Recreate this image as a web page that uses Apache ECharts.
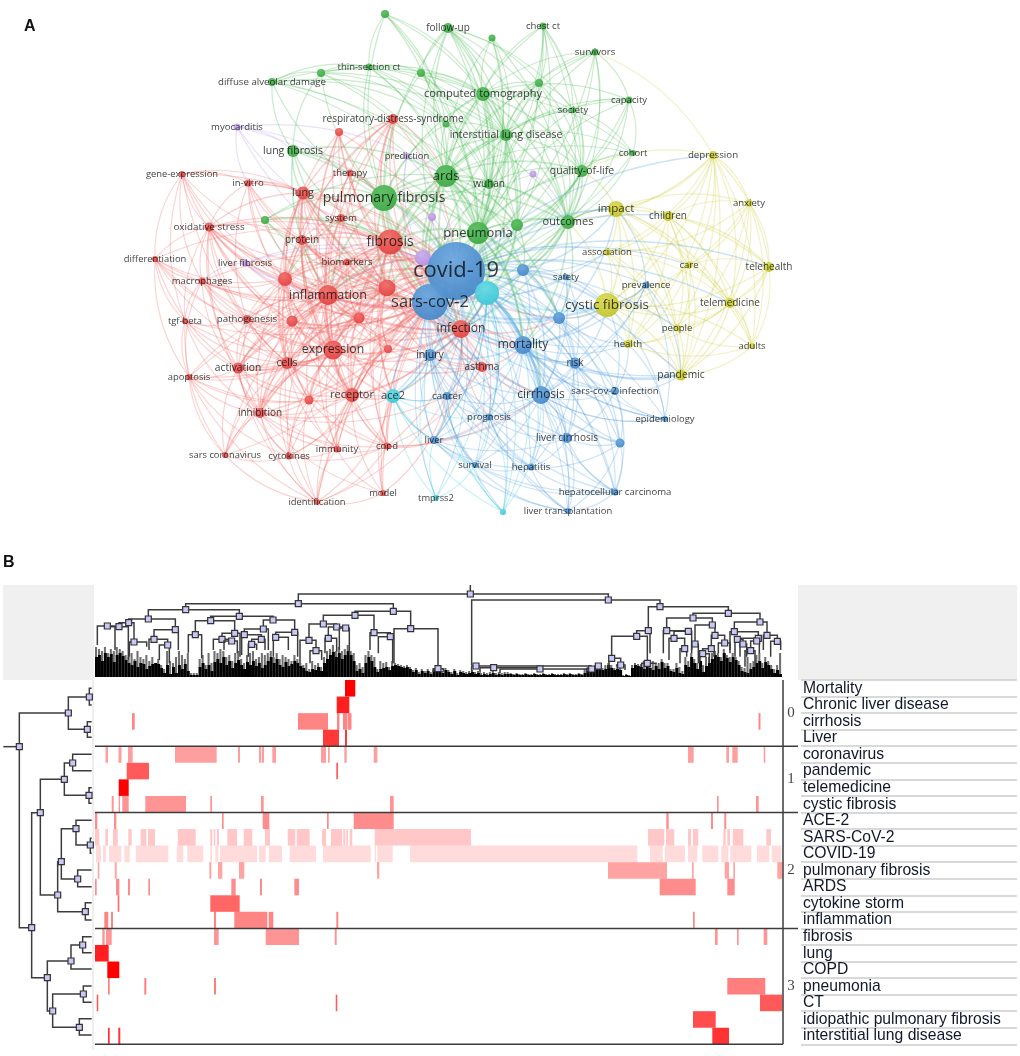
<!DOCTYPE html>
<html>
<head>
<meta charset="utf-8">
<script src="https://cdn.jsdelivr.net/npm/echarts@6/dist/echarts.min.js"></script>
<style>html,body{margin:0;padding:0;background:#fff}#chart{width:1020px;height:1056px;filter:blur(0.35px)}</style>
</head>
<body>
<div id="chart"></div>
<script>
// panel A - keyword network
var nodeLabels = ['', 'follow-up', 'thin-section ct', '', '', 'diffuse alveolar damage', 'computed tomography', '', 'chest ct', 'survivors',
    '', 'capacity', 'society', '', 'interstitial lung disease', 'cohort', 'lung fibrosis', 'quality-of-life', 'wuhan', 'ards',
    'pulmonary fibrosis', 'outcomes', '', 'pneumonia', '',
    'myocarditis', 'prediction', '', '', '', 'liver fibrosis',
    'respiratory-distress-syndrome', '', 'gene-expression', 'in-vitro', 'therapy', 'lung', 'system', 'oxidative stress', 'protein',
    'fibrosis', 'differentiation', 'biomarkers', 'macrophages', '', 'inflammation', '', 'tgf-beta', 'pathogenesis', '',
    '', 'infection', 'expression', '', 'cells', 'activation', 'apoptosis', 'asthma', '', 'receptor',
    'inhibition', 'sars coronavirus', 'cytokines', 'immunity', 'copd', 'model', 'identification',
    'covid-19', 'sars-cov-2', '', 'safety', 'prevalence', '', 'mortality', 'risk', 'injury', 'cirrhosis',
    'cancer', 'sars-cov-2 infection', 'prognosis', 'epidemiology', 'liver', 'liver cirrhosis', '', 'survival', 'hepatitis',
    'hepatocellular carcinoma', 'liver transplantation',
    '', 'ace2', 'tmprss2', '',
    'depression', 'impact', 'children', 'anxiety', 'association', 'care', 'telehealth', 'cystic fibrosis', 'telemedicine',
    'people', 'adults', 'health', 'pandemic'];
var nodeX = [385, 448, 369, 321, 421, 272, 483, 492, 543, 595, 539, 629, 573, 446, 506, 633, 293, 582, 489, 446, 384, 568, 517, 478, 265,
    237, 407, 533, 432, 423, 245,
    393, 339, 182, 248, 350, 303, 341, 209, 302, 390, 155, 347, 202, 285, 328, 387, 185, 247, 292, 359, 461, 333, 388, 287, 238, 189, 482, 309, 352,
    260, 225, 289, 337, 387, 383, 317,
    456, 430, 523, 566, 646, 559, 523, 575, 430, 541, 447, 615, 489, 665, 434, 567, 620, 475, 531, 615, 568,
    487, 393, 436, 503,
    713, 616, 668, 749, 607, 689, 769, 607, 730, 677, 752, 628, 681];
var nodeY = [14, 28, 67, 73, 73, 82, 94, 38, 26, 52, 83, 100, 110, 124, 135, 153, 151, 171, 184, 176, 198, 222, 225, 233, 220,
    127, 156, 174, 217, 258, 263,
    119, 132, 174, 183, 173, 193, 218, 227, 240, 242, 259, 262, 281, 279, 295, 288, 321, 319, 321, 318, 329, 350, 349, 363, 368, 377, 367, 400, 395,
    413, 455, 456, 449, 446, 493, 502,
    271, 302, 270, 277, 285, 318, 345, 363, 355, 395, 396, 391, 417, 419, 440, 438, 443, 465, 467, 492, 511,
    293, 396, 498, 512,
    155, 209, 216, 203, 252, 265, 267, 305, 303, 328, 346, 344, 375];
var nodeWeight = [4, 5, 3.5, 4, 4, 4, 7, 3.5, 3.5, 3.5, 4, 3.5, 3, 3.5, 6, 3, 6, 6, 5, 11, 13, 7, 6, 11, 4,
    3.5, 3, 3.5, 4, 8, 3.5,
    5, 4, 3, 3.5, 3.5, 6.5, 4, 4.5, 5, 12.5, 3, 3.5, 3.5, 7, 10, 8.5, 3, 4, 5.5, 5.5, 9, 9.5, 4, 6, 5.5, 3, 5, 4.5, 7,
    5, 3, 3.5, 3.5, 3.5, 3, 3,
    29, 18, 6, 3, 3.5, 6, 9, 5.5, 6, 9, 4, 4, 3.5, 3, 4, 5, 4.5, 3, 3.5, 3.5, 3,
    12, 7, 3, 3,
    4, 8, 5, 3.5, 3.5, 3.5, 5, 12, 5, 3.5, 3, 4, 5.5];
// 0 green, 1 purple, 2 red, 3 blue, 4 cyan, 5 yellow
var clusterFirstNode = [0, 25, 31, 67, 88, 92];

var linksGreen = [
    [0, [2, 6, 14, 19, 20, 23, 13]],
    [1, [6, 14, 18, 19, 23, 21, 17, 22, 10, 12, 4, 20, 28]],
    [2, [3, 5, 6, 13, 14, 19, 20, 23, 4, 18]],
    [3, [5, 6, 13, 14, 19, 20, 23, 16]],
    [4, [6, 14, 19, 20, 23, 18, 22]],
    [5, [14, 16, 19, 20, 23, 6, 13, 22]],
    [6, [8, 10, 12, 13, 14, 17, 18, 19, 20, 21, 22, 23, 7, 11, 67, 68]],
    [7, [14, 19, 23, 18, 21]],
    [8, [10, 14, 17, 19, 23, 21, 12, 22, 18]],
    [9, [6, 14, 17, 19, 21, 23, 11, 10, 22, 67]],
    [10, [14, 17, 19, 21, 23, 12, 18]],
    [11, [14, 17, 21, 23, 19, 15, 67, 12]],
    [12, [14, 17, 19, 21, 23, 15]],
    [13, [14, 18, 19, 20, 23, 21]],
    [14, [17, 18, 19, 20, 21, 22, 23, 67, 68, 15, 51, 40]],
    [15, [17, 21, 23, 67, 19, 6]],
    [16, [19, 20, 23, 40, 36, 67, 45, 46]],
    [17, [19, 21, 22, 23, 67, 68, 18, 69]],
    [18, [19, 20, 21, 22, 23, 67, 68, 40]],
    [19, [20, 21, 22, 23, 67, 68, 40, 51, 46, 29, 28, 69, 72, 88, 73]],
    [20, [21, 22, 23, 67, 68, 40, 36, 45, 46, 29, 28, 44, 24, 51]],
    [21, [22, 23, 67, 68, 69, 72, 88, 73, 51, 93]],
    [22, [23, 67, 68, 88, 69, 51]],
    [23, [67, 68, 40, 46, 51, 88, 69, 73, 72, 45, 76, 75]],
    [24, [40, 45, 19, 67, 68, 39]]
];
var linksPurple = [
    [25, [16, 34, 67, 68, 29, 19, 20]],
    [26, [67, 68, 19, 29]],
    [27, [67, 29, 21]],
    [28, [67, 68, 40]],
    [29, [67, 68, 30, 45, 40]],
    [30, [67, 68, 45, 44, 43]]
];
var linksRed = [
    [31, [19, 20, 40, 36, 45, 46, 67, 68, 52, 51, 39, 44, 35]],
    [32, [40, 45, 46, 67, 68, 52, 20, 44, 37]],
    [33, [34, 38, 41, 43, 45, 40, 47, 52, 44, 54, 36, 39]],
    [34, [36, 38, 39, 40, 45, 46, 52, 44, 67, 68, 48]],
    [35, [40, 45, 46, 67, 68, 52, 36, 37]],
    [36, [37, 38, 39, 40, 44, 45, 46, 49, 50, 52, 54, 67, 68, 51, 59, 42]],
    [37, [40, 45, 46, 52, 67, 68, 39, 44, 50]],
    [38, [39, 40, 41, 43, 44, 45, 46, 48, 49, 50, 52, 54, 55, 67, 68, 47, 60, 42]],
    [39, [40, 42, 44, 45, 46, 49, 50, 52, 54, 67, 68, 51, 59]],
    [40, [42, 44, 45, 46, 48, 49, 50, 51, 52, 53, 54, 55, 57, 59, 60, 67, 68, 29, 88, 64, 63, 75, 89, 73, 72]],
    [41, [43, 45, 47, 52, 44, 48, 40, 55, 56, 54]],
    [42, [45, 46, 52, 67, 68, 44, 50, 51, 49, 53]],
    [43, [44, 45, 46, 49, 52, 54, 47, 48, 55, 56, 67, 68]],
    [44, [45, 46, 48, 49, 50, 52, 54, 55, 59, 60, 67, 68, 51, 58]],
    [45, [46, 48, 49, 50, 51, 52, 53, 54, 55, 56, 57, 58, 59, 60, 63, 64, 67, 68, 75, 89, 88, 29, 62, 61]],
    [46, [49, 50, 51, 52, 53, 54, 55, 59, 60, 67, 68, 57, 64, 58, 75, 89]],
    [47, [48, 52, 55, 56, 54, 60, 61, 68]],
    [48, [49, 50, 52, 54, 55, 60, 67, 68, 59]],
    [49, [50, 52, 54, 55, 59, 60, 67, 68, 58, 51]],
    [50, [52, 54, 59, 67, 68, 51, 53, 55, 58]],
    [51, [52, 53, 54, 57, 59, 64, 67, 68, 75, 77, 79, 81, 88, 89, 73, 76, 72]],
    [52, [53, 54, 55, 58, 59, 60, 62, 63, 64, 67, 68, 75, 89, 57, 61]],
    [53, [59, 67, 68, 54, 64, 57]],
    [54, [55, 56, 58, 59, 60, 62, 63, 67, 68, 66, 64, 61, 89]],
    [55, [56, 58, 59, 60, 62, 67, 68, 61, 66, 63]],
    [56, [60, 58, 61, 62, 59, 66, 67, 68]],
    [57, [67, 68, 64, 73, 76, 79, 75, 77]],
    [58, [59, 60, 62, 63, 66, 67, 68, 64]],
    [59, [60, 62, 63, 64, 65, 66, 67, 68, 89, 75]],
    [60, [61, 62, 63, 64, 66, 67, 68, 65, 89, 77]],
    [61, [62, 66, 67, 68]],
    [62, [63, 64, 66, 67, 68]],
    [63, [64, 65, 66, 67, 68]],
    [64, [65, 66, 67, 68, 81, 79, 76]],
    [65, [66, 67, 68, 89, 77]],
    [66, [67, 68, 89, 77]]
];
var linksBlue = [
    [67, [68, 69, 70, 71, 72, 73, 74, 75, 76, 77, 78, 79, 80, 81, 82, 83, 84, 85, 86, 87, 88, 89, 90, 91, 93, 96, 97, 99, 100, 101, 103, 104, 94, 92, 98, 29, 28]],
    [68, [69, 72, 73, 74, 75, 76, 77, 78, 79, 81, 82, 83, 84, 85, 86, 87, 88, 89, 90, 91, 99, 104, 103, 96]],
    [69, [73, 74, 76, 72, 99, 96, 93, 88, 51]],
    [70, [73, 76, 99, 72, 74, 88]],
    [71, [99, 76, 73, 74, 93, 80, 104]],
    [72, [73, 74, 76, 78, 99, 83, 82, 88, 103, 93]],
    [73, [74, 75, 76, 77, 78, 79, 80, 81, 82, 83, 84, 85, 86, 87, 88, 99, 104, 103]],
    [74, [76, 78, 79, 80, 82, 83, 85, 86, 88, 99, 104]],
    [75, [76, 77, 79, 81, 84, 88, 89, 82, 85]],
    [76, [77, 78, 79, 80, 81, 82, 83, 84, 85, 86, 87, 88]],
    [77, [79, 81, 84, 85, 88, 89]],
    [78, [80, 83, 82, 86, 99, 103, 104]],
    [79, [81, 82, 84, 85, 86, 87, 88]],
    [80, [99, 103, 76, 73]],
    [81, [84, 85, 82, 86, 87, 88, 89]],
    [82, [85, 86, 87, 83]],
    [83, [86, 87, 85]],
    [84, [85, 86, 87]],
    [85, [86, 87]],
    [86, [87]]
];
var linksCyan = [
    [88, [89, 90, 91, 75, 73, 76, 77, 79, 84, 81, 99]],
    [89, [90, 91, 75, 77, 81, 84, 79]],
    [90, [81, 84, 75]],
    [91, [84, 79, 76, 77, 75, 73]]
];
var linksYellow = [
    [92, [93, 94, 95, 96, 97, 98, 99, 100, 101, 102, 103, 104, 9, 21, 17]],
    [93, [94, 95, 96, 97, 98, 99, 100, 101, 102, 103, 104, 21, 17]],
    [94, [95, 96, 97, 98, 99, 100, 101, 102, 103, 104]],
    [95, [97, 98, 99, 100, 101, 102, 104, 96]],
    [96, [97, 99, 100, 101, 103, 104]],
    [97, [98, 99, 100, 101, 102, 103, 104]],
    [98, [99, 100, 101, 102, 104]],
    [99, [100, 101, 102, 103, 104, 71, 21, 72]],
    [100, [101, 102, 103, 104]],
    [101, [102, 103, 104]],
    [102, [103, 104]],
    [103, [104]]
];

// panel B - heat map
var rowLabels = ['Mortality', 'Chronic liver disease', 'cirrhosis', 'Liver', 'coronavirus', 'pandemic', 'telemedicine', 'cystic fibrosis',
    'ACE-2', 'SARS-CoV-2', 'COVID-19', 'pulmonary fibrosis', 'ARDS', 'cytokine storm', 'inflammation',
    'fibrosis', 'lung', 'COPD', 'pneumonia', 'CT', 'idiopathic pulmonary fibrosis', 'interstitial lung disease'];
var rowStrength = [1, 0.88, 0.48, 0.78, 0.38, 0.65, 1, 0.42, 0.45, 0.22, 0.14, 0.36, 0.45, 0.6, 0.48, 0.42, 0.88, 1, 0.5, 0.65, 0.7, 0.8];
var rowSpans = [
    [[345, 355.3]],
    [[336.7, 349.3]],
    [[132, 134.7], [298, 328], [337, 339.5], [343, 347.5], [348, 351.5], [758.5, 760.5]],
    [[323, 339], [345, 347]],
    [[105.5, 108], [118.5, 121.5], [128, 132.7], [175, 216.7], [238, 240], [259, 261.3], [262, 264], [272.3, 276], [321, 326], [328, 329.7], [344.3, 346.7], [373.7, 377.3], [688, 693.7], [726.3, 729], [732.3, 737.7], [763.7, 765.3]],
    [[126.7, 149], [336.3, 338]],
    [[118.7, 128.7]],
    [[111.7, 113.7], [118.7, 120], [122.3, 128.7], [145.3, 186], [210.3, 212], [261, 263.7], [390, 393.7], [717, 718.7], [756, 758.7]],
    [[95, 97.3], [114, 116.3], [222, 223.7], [262.7, 269.3], [327, 328.7], [353.7, 393.7], [666.3, 668.7], [711, 713], [724.3, 726.3]],
    [[95, 99.3], [105.3, 108], [113, 117.7], [128.3, 131.7], [140.7, 146.3], [148, 155], [177.7, 195.7], [210.3, 212.3], [213.7, 215.3], [217, 219], [227.3, 237], [243.7, 252.3], [265, 270], [287.7, 295.3], [296.7, 309.7], [322, 326], [331, 342.3], [343.3, 345.3], [346.3, 348], [349.7, 352.3], [374.7, 471], [648, 664.3], [666, 674.3], [688, 691], [693, 698.3], [723.3, 725.7], [727.3, 730], [732.7, 743.3], [766.3, 771]],
    [[96, 101], [103, 106], [109, 121.3], [124.3, 129.7], [135.7, 168.3], [176.7, 183.3], [187.3, 203.3], [210.3, 212], [215.3, 218.3], [220, 257], [259, 265.7], [268.7, 282], [289.7, 316], [323, 370.7], [374.7, 376], [377.3, 392.7], [410, 637.3], [650, 662.7], [664.7, 685], [688, 697.3], [702.3, 718.3], [721.3, 728.3], [730.3, 751.3], [757, 769.3], [771.7, 781.3]],
    [[97.7, 99.3], [114.7, 116.7], [209.3, 211.3], [218, 222.3], [239, 244.3], [377, 379.3], [608, 667], [692, 693.7], [724.7, 729], [733.3, 735], [777.3, 782.3]],
    [[95, 96.7], [116, 119.3], [128, 130], [148.3, 150], [231.3, 235.7], [260, 262], [294.3, 299], [659.7, 695.7], [727.3, 734.7]],
    [[117.7, 119.3], [210.3, 239.7]],
    [[104.3, 108.3], [111, 113], [214, 216], [234.3, 267.3], [268.7, 273.3], [336.3, 338.3], [693, 694.7]],
    [[102.3, 104.7], [106, 111.7], [214, 218.7], [265.7, 299], [334.7, 336.7], [715, 717.7], [737, 738.7], [763.7, 767.3]],
    [[95, 108.7]],
    [[107.3, 119.3]],
    [[108, 109.7], [144.3, 146.3], [214, 216], [727.3, 765.3]],
    [[96.7, 98.3], [335.7, 337.3], [760, 782.3]],
    [[693, 715.7]],
    [[108, 109.7], [118.3, 120.3], [712.3, 729]]
];
var groupNames = ['0', '1', '2', '3'];
var groupCentres = [2, 6, 11.5, 18.5];
var groupEnds = [4, 8, 15, 22];

// dendrograms: node x, node y, first child x, y, second child x, y
var topBranches = [
    [1411, 132, 895, 161, 1825, 150], [895, 161, 557, 179, 1180, 184], [557, 179, 445, 207, 718, 199], [445, 207, 386, 218, 526, 239],
    [386, 218, 357, 230, 402, 276], [357, 230, 322, 228, 385, 330], [322, 228, 292, 285, 345, 300], [402, 276, 388, 320, 440, 290],
    [526, 239, 462, 268, 535, 300], [462, 268, 447, 300, 503, 285], [503, 285, 478, 330, 508, 340], [718, 199, 632, 212, 819, 210],
    [632, 212, 586, 254, 704, 250], [586, 254, 565, 308, 605, 325], [704, 250, 666, 268, 720, 320], [666, 268, 640, 300, 695, 273],
    [695, 273, 672, 300, 712, 310], [819, 210, 790, 237, 884, 247], [790, 237, 733, 254, 805, 300], [733, 254, 725, 315, 784, 268],
    [784, 268, 755, 283, 795, 300], [755, 283, 745, 320, 770, 300], [884, 247, 827, 262, 893, 320], [827, 262, 820, 320, 865, 300],
    [1180, 184, 1065, 196, 1232, 236], [1065, 196, 970, 222, 1122, 248], [970, 222, 927, 271, 1010, 231], [927, 271, 900, 340, 948, 302],
    [948, 302, 930, 340, 965, 330], [1010, 231, 985, 265, 1037, 234], [985, 265, 975, 310, 1010, 305], [1037, 234, 1018, 300, 1048, 310],
    [1122, 248, 1110, 300, 1171, 260], [1171, 260, 1135, 310, 1178, 340], [1232, 236, 1182, 340, 1314, 356], [1314, 356, 1300, 365, 1330, 365],
    [1825, 150, 1415, 345, 1980, 170], [1428, 348, 1415, 365, 1775, 348], [1481, 353, 1440, 368, 1620, 357], [1620, 357, 1500, 370, 1775, 357],
    [1775, 357, 1760, 370, 1795, 352], [1795, 348, 1785, 360, 1800, 360], [1980, 170, 1945, 242, 2185, 190], [1945, 242, 1910, 259, 1950, 310],
    [1910, 259, 1835, 325, 1942, 340], [1835, 325, 1827, 355, 1862, 345], [1862, 345, 1850, 350, 1875, 360], [1942, 340, 1925, 350, 1970, 340],
    [2185, 190, 2079, 204, 2280, 216], [2079, 204, 2000, 242, 2137, 225], [2000, 242, 1990, 310, 2065, 244], [2065, 244, 2022, 265, 2075, 300],
    [2022, 265, 2007, 330, 2054, 296], [2054, 296, 2040, 340, 2060, 320], [2137, 225, 2085, 282, 2145, 256], [2085, 282, 2075, 310, 2095, 340],
    [2145, 256, 2134, 296, 2174, 279], [2134, 296, 2108, 311, 2142, 320], [2108, 311, 2098, 340, 2128, 340], [2174, 279, 2155, 310, 2190, 310],
    [2280, 216, 2203, 245, 2301, 256], [2203, 245, 2190, 300, 2275, 265], [2275, 265, 2212, 268, 2270, 273], [2212, 268, 2205, 320, 2229, 282],
    [2229, 282, 2220, 320, 2240, 320], [2270, 273, 2252, 302, 2278, 310], [2252, 302, 2235, 350, 2265, 350], [2301, 256, 2290, 300, 2332, 274],
    [2332, 274, 2312, 320, 2342, 300]
];
var leftBranches = [
    [58, 215, 205, 114, 95, 758], [205, 114, 268, 66, 262, 163], [268, 66, 275, 40, 275, 90], [262, 163, 275, 140, 275, 187],
    [95, 758, 121, 413, 142, 908], [121, 413, 193, 313, 173, 660], [193, 313, 218, 264, 267, 361], [218, 264, 275, 238, 275, 287],
    [267, 361, 275, 338, 275, 385], [173, 660, 184, 560, 256, 710], [184, 560, 228, 461, 233, 612], [228, 461, 275, 436, 271, 510],
    [271, 510, 275, 490, 275, 535], [233, 612, 275, 585, 275, 635], [256, 710, 275, 683, 275, 735], [142, 908, 213, 858, 158, 1008],
    [213, 858, 248, 810, 275, 882], [248, 810, 275, 785, 275, 833], [158, 1008, 250, 957, 238, 1057], [250, 957, 275, 933, 275, 982],
    [238, 1057, 275, 1031, 275, 1080]
];
var topRootEnd = 105;
var leftRootEnd = 10;

// height of the dense leaves under the top tree, one value per leaf bin
var leafBlack = [20, 22, 16, 24, 20, 23, 15, 22, 24, 21, 17, 14, 12, 16, 10, 14, 13, 8, 11, 13, 14, 13, 9, 4, 12, 3, 10, 4, 12, 8, 13, 6, 2, 2, 2,
    10, 14, 8, 12, 6, 15, 18, 14, 20, 12, 16, 9, 14, 17, 12, 8, 15, 12, 16, 11, 14, 9, 12, 16, 20, 14, 18, 12, 10, 15, 11, 13, 16, 14, 11,
    9, 6, 5, 8, 7, 10, 6, 14, 18, 22, 25, 20, 24, 18, 22, 26, 22, 16, 6, 8, 4, 14, 20, 16, 10, 5, 8, 9, 10, 7, 11, 12, 11, 10, 9, 10, 8,
    5, 7, 3, 6, 4, 6, 3, 7, 5, 6, 4, 7, 5, 3, 6, 2, 5, 4, 3, 4, 5, 3, 4, 2, 3, 2, 3, 4, 2, 3, 2, 3, 3,
    3, 2, 3, 2, 2, 3, 2, 2, 3, 2, 2, 3, 2, 2, 3, 2, 2, 2, 3, 2, 3, 2, 2, 3, 2, 4, 6, 8, 7, 9, 8, 7, 8, 12, 9, 7, 8, 7, 1, 2, 1,
    9, 12, 11, 10, 8, 13, 9, 7, 11, 8, 15, 9, 11, 6, 5, 9, 4, 3, 12, 10, 20, 14, 8, 16, 5, 11, 14, 18, 22, 20, 16, 24, 19, 15, 20, 17, 12,
    6, 5, 4, 8, 10, 14, 16, 9, 15, 12, 8, 4, 7, 3];
var leafGray = [30, 28, 26, 30, 24, 28, 26, 30, 28, 26, 22, 20, 24, 18, 26, 20, 18, 22, 16, 20, 14, 18, 12, 8, 26, 16, 14, 20, 26, 22, 18, 24, 4, 4, 4,
    18, 22, 12, 24, 14, 26, 24, 28, 26, 20, 22, 16, 24, 26, 18, 14, 22, 24, 26, 18, 20, 24, 22, 24, 26, 20, 24, 18, 22, 20, 18, 16, 22, 18, 14,
    12, 14, 8, 16, 12, 14, 10, 20, 26, 28, 32, 26, 30, 26, 28, 32, 26, 24, 12, 14, 10, 22, 26, 22, 20, 8, 16, 14, 15, 10, 16, 14, 13, 12, 11, 12, 10,
    7, 9, 5, 8, 6, 8, 5, 9, 7, 8, 6, 9, 7, 5, 8, 4, 7, 6, 5, 6, 7, 5, 6, 4, 5, 4, 5, 6, 4, 5, 4, 5, 5,
    4, 3, 4, 3, 3, 4, 3, 3, 4, 3, 3, 4, 3, 3, 4, 3, 3, 3, 4, 3, 4, 3, 3, 4, 3, 8, 10, 12, 10, 12, 10, 9, 12, 14, 12, 9, 10, 9, 2, 3, 2,
    12, 14, 13, 13, 16, 15, 14, 16, 14, 14, 18, 14, 14, 8, 8, 14, 10, 6, 20, 16, 24, 18, 14, 20, 12, 20, 20, 24, 26, 24, 20, 28, 22, 20, 24, 20, 16,
    10, 9, 20, 14, 16, 22, 24, 14, 20, 16, 12, 8, 12, 24];

var clusterColors = ['#3da644', '#b58de0', '#e2403f', '#4585c6', '#3cc6d4', '#c2c228'];
var clusterLights = ['#5cc062', '#cdb0ee', '#f06f6c', '#6ca8e0', '#68dbe5', '#dcdc58'];
var clusterEdges = ['#4fbc58', '#b79ae4', '#ee6a68', '#5aa2e0', '#42cfdc', '#cfd044'];

function clusterOf(i) {
    var c = 0;
    for (var k = 0; k < clusterFirstNode.length; k++) {
        if (i >= clusterFirstNode[k]) c = k;
    }
    return c;
}

// label text grows with the node, faster on the mid sized ones
function labelFont(r) {
    if (r <= 5) return 8.5 + r * 0.3;
    if (r <= 13) return 10 + (r - 5) * 0.5;
    return 14 + (r - 13) * 0.5;
}

// curved edges, bowed away from the middle of the map
function edgeData(links) {
    var out = [];
    links.forEach(function (row) {
        row[1].forEach(function (t) {
            var a = row[0], b = t;
            var mx = (nodeX[a] + nodeX[b]) / 2 - nodeX[67];
            var my = (nodeY[a] + nodeY[b]) / 2 - nodeY[67];
            // normal of the chord that echarts uses for a positive curveness
            if ((nodeY[b] - nodeY[a]) * mx + (nodeX[a] - nodeX[b]) * my < 0) { var s = a; a = b; b = s; }
            var w = Math.min(nodeWeight[a], nodeWeight[b]);
            out.push({
                coords: [[nodeX[a], nodeY[a]], [nodeX[b], nodeY[b]]],
                lineStyle: { width: 0.7 + w * 0.14 }
            });
        });
    });
    return out;
}

function edgeSeries(links, cluster) {
    return {
        type: 'lines', coordinateSystem: 'cartesian2d', xAxisIndex: 0, yAxisIndex: 0, polyline: false, z: 1, silent: true,
        lineStyle: { color: clusterEdges[cluster], opacity: 0.3, curveness: 0.18 },
        data: edgeData(links)
    };
}

var nodeData = nodeX.map(function (x, i) {
    var c = clusterOf(i);
    return {
        name: nodeLabels[i], value: [x, nodeY[i], nodeWeight[i]],
        itemStyle: {
            color: new echarts.graphic.RadialGradient(0.42, 0.32, 0.75, [
                { offset: 0, color: clusterLights[c] }, { offset: 1, color: clusterColors[c] }
            ])
        }
    };
});
var labelData = [];
nodeLabels.forEach(function (name, i) {
    if (!name) return;
    labelData.push({
        name: name, value: [nodeX[i], nodeY[i]],
        label: { fontSize: labelFont(nodeWeight[i]) }
    });
});

var heatData = [];
rowSpans.forEach(function (spans, r) {
    spans.forEach(function (s) { heatData.push([s[0], s[1], r, rowStrength[r]]); });
});

function branchItem(vertical, rootEnd) {
    return function (params, api) {
        var n = api.coord([api.value(0), api.value(1)]);
        var a = api.coord([api.value(2), api.value(3)]);
        var b = api.coord([api.value(4), api.value(5)]);
        var pts = vertical
            ? [a, [a[0], n[1]], [b[0], n[1]], b]
            : [a, [n[0], a[1]], [n[0], b[1]], b];
        var kids = [{ type: 'polyline', shape: { points: pts }, style: { stroke: '#3c3c3c', lineWidth: 1.5, fill: null } }];
        if (params.dataIndex === 0) {
            var end = vertical ? api.coord([api.value(0), rootEnd]) : api.coord([rootEnd, api.value(1)]);
            kids.push({ type: 'line', shape: { x1: n[0], y1: n[1], x2: end[0], y2: end[1] }, style: { stroke: '#3c3c3c', lineWidth: 1.5 } });
        }
        kids.push({ type: 'rect', shape: { x: n[0] - 3, y: n[1] - 3, width: 6, height: 6 }, style: { fill: '#c8c8f8', stroke: '#333', lineWidth: 1.2 } });
        return { type: 'group', children: kids };
    };
}

function hiddenAxis(index, min, max, inverse) {
    return { type: 'value', gridIndex: index, min: min, max: max, inverse: !!inverse, show: false, splitLine: { show: false } };
}

var leafBins = leafBlack.map(function (v, i) { return i; });

var option = {
    backgroundColor: '#fff',
    animation: false,
    title: [
        { text: 'A', left: 19, top: 14, textStyle: { fontFamily: 'Liberation Sans', fontSize: 16, fontWeight: 'bold', color: '#111' } },
        { text: 'B', left: -2, top: 550, textStyle: { fontFamily: 'Liberation Sans', fontSize: 16, fontWeight: 'bold', color: '#111' } }
    ],
    graphic: [
        { type: 'rect', left: 3, top: 585, z: -1, shape: { width: 91, height: 95 }, style: { fill: '#f0f0f0' } },
        { type: 'rect', left: 798, top: 585, z: -1, shape: { width: 219, height: 95 }, style: { fill: '#f0f0f0' } },
        { type: 'rect', left: 92, top: 680, z: -1, shape: { width: 2, height: 370 }, style: { fill: '#eeeeee' } }
    ],
    grid: [
        { left: 0, top: 0, width: 1020, height: 540 },
        { left: 0, top: 550, width: 1020, height: 140 },
        { left: 95, top: 585, width: 687, height: 92 },
        { left: 0, top: 675, width: 94, height: 381 },
        { left: 0, top: 680, width: 1020, height: 364.3 },
        { left: 801, top: 680, width: 216, height: 364.3 }
    ],
    xAxis: [
        hiddenAxis(0, 0, 1020),
        hiddenAxis(1, 0, 3060),
        { type: 'category', gridIndex: 2, data: leafBins, show: false },
        hiddenAxis(3, 0, 282),
        hiddenAxis(4, 0, 1020),
        hiddenAxis(5, 0, 1)
    ],
    yAxis: [
        hiddenAxis(0, 0, 540, true),
        hiddenAxis(1, 0, 420, true),
        hiddenAxis(2, 0, 92),
        hiddenAxis(3, 0, 1143, true),
        hiddenAxis(4, 0, 22, true),
        {
            type: 'category', gridIndex: 5, data: rowLabels, inverse: true, position: 'left',
            axisLine: { show: false }, axisTick: { show: false },
            axisLabel: { inside: true, margin: 2, interval: 0, color: '#10182a', fontFamily: 'Liberation Sans', fontSize: 15.7, align: 'left', padding: [3, 0, 0, 0] },
            splitLine: { show: true, interval: 0, lineStyle: { color: '#cccccc', width: 1.5 } }
        }
    ],
    series: [
        edgeSeries(linksCyan, 4),
        edgeSeries(linksYellow, 5),
        edgeSeries(linksPurple, 1),
        edgeSeries(linksGreen, 0),
        edgeSeries(linksRed, 2),
        edgeSeries(linksBlue, 3),
        {
            type: 'scatter', xAxisIndex: 0, yAxisIndex: 0, z: 2, silent: true, data: nodeData,
            symbolSize: function (v) { return v[2] * 2; },
            itemStyle: { opacity: 0.95 }
        },
        {
            type: 'scatter', xAxisIndex: 0, yAxisIndex: 0, z: 3, silent: true, data: labelData, symbolSize: 1,
            itemStyle: { color: 'rgba(0,0,0,0)' },
            label: { show: true, position: 'inside', formatter: '{b}', color: '#0c0c0c', fontFamily: 'Open Sans' },
            labelLayout: { hideOverlap: false }
        },
        {
            type: 'bar', xAxisIndex: 2, yAxisIndex: 2, data: leafGray, barWidth: '70%', barGap: '-100%', z: 1, silent: true,
            itemStyle: { color: '#707070' }
        },
        {
            type: 'bar', xAxisIndex: 2, yAxisIndex: 2, data: leafBlack, barWidth: '100%', barGap: '-100%', z: 2, silent: true,
            itemStyle: { color: '#000' }
        },
        {
            type: 'custom', xAxisIndex: 1, yAxisIndex: 1, z: 3, silent: true, data: topBranches,
            encode: { x: [0, 2, 4], y: [1, 3, 5] },
            renderItem: branchItem(true, topRootEnd)
        },
        {
            type: 'custom', xAxisIndex: 3, yAxisIndex: 3, z: 3, silent: true, data: leftBranches,
            encode: { x: [0, 2, 4], y: [1, 3, 5] },
            renderItem: branchItem(false, leftRootEnd)
        },
        {
            type: 'custom', xAxisIndex: 4, yAxisIndex: 4, z: 2, silent: true, data: heatData,
            encode: { x: [0, 1], y: 2 },
            renderItem: function (params, api) {
                var p0 = api.coord([api.value(0), api.value(2)]);
                var p1 = api.coord([api.value(1), api.value(2) + 1]);
                return {
                    type: 'rect',
                    shape: { x: p0[0], y: p0[1], width: p1[0] - p0[0], height: p1[1] - p0[1] },
                    style: { fill: 'rgba(255,0,0,' + api.value(3) + ')' }
                };
            }
        },
        {
            // separators between the four groups and the bar closing the matrix
            type: 'custom', xAxisIndex: 4, yAxisIndex: 4, z: 4, silent: true, data: groupEnds,
            encode: { y: 0 },
            renderItem: function (params, api) {
                var last = params.dataIndex === groupEnds.length - 1;
                var p0 = api.coord([95, api.value(0)]);
                var p1 = api.coord([last ? 783 : 798, api.value(0)]);
                var kids = [{ type: 'line', shape: { x1: p0[0], y1: p0[1], x2: p1[0], y2: p1[1] }, style: { stroke: '#3c3c3c', lineWidth: 1.5 } }];
                if (last) {
                    var t = api.coord([783, 0]);
                    kids.push({ type: 'line', shape: { x1: t[0], y1: t[1], x2: p1[0], y2: p1[1] }, style: { stroke: '#3c3c3c', lineWidth: 1.5 } });
                }
                return { type: 'group', children: kids };
            }
        },
        {
            type: 'scatter', xAxisIndex: 4, yAxisIndex: 4, z: 5, silent: true, symbolSize: 1,
            itemStyle: { color: 'rgba(0,0,0,0)' },
            data: groupNames.map(function (g, i) { return { name: g, value: [791, groupCentres[i]] }; }),
            label: { show: true, position: 'inside', formatter: '{b}', color: '#111', fontFamily: 'Liberation Serif', fontSize: 15 }
        }
    ]
};

var chart = echarts.init(document.getElementById('chart'));
chart.setOption(option);
</script>
</body>
</html>
